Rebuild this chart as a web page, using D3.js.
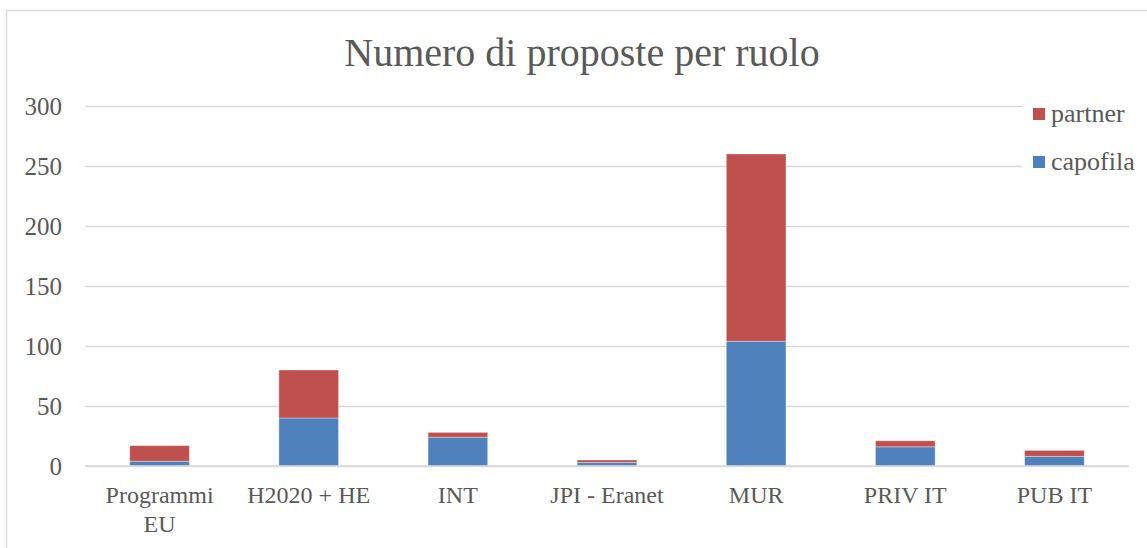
<!DOCTYPE html>
<html>
<head>
<meta charset="utf-8">
<script src="https://cdn.jsdelivr.net/npm/d3@7"></script>
<style>
  html, body { margin: 0; padding: 0; background: #fff; }
  svg { display: block; font-family: "Liberation Serif", "DejaVu Serif", serif; }
</style>
</head>
<body>
<svg id="chart" width="1147" height="548"></svg>
<script>
// dati
const categories = ["Programmi EU", "H2020 + HE", "INT", "JPI - Eranet", "MUR", "PRIV IT", "PUB IT"]
const capofila = [4, 40, 24, 3, 104, 16, 8]
const partner = [13, 40, 4, 2, 156, 5, 5]
const y_ticks = [0, 50, 100, 150, 200, 250, 300]
const series_names = ["capofila", "partner"]

const color = { capofila: "#4F81BD", partner: "#C0504D" }
const text_color = "#595959", grid_color = "#D9D9D9"

const svg = d3.select("#chart")
const width = 1147, height = 548

/* area del grafico */
const plot_left = 85, plot_right = 1129, plot_top = 106, plot_bottom = 466

// bordo esterno
svg.append("path")
    .attr("d", `M6.5,${height} L6.5,10.5 L${width},10.5`)
    .attr("fill", "none")
    .attr("stroke", grid_color)
    .attr("stroke-width", 1.5)

const x = d3.scaleBand()
    .domain(categories)
    .range([plot_left, plot_right])
    .paddingInner(0.6)
    .paddingOuter(0.3)

const y = d3.scaleLinear()
    .domain([0, 300])
    .range([plot_bottom, plot_top])

/* griglia + asse y */
const yAxis = svg.append("g")
    .attr("transform", `translate(${plot_left},0)`)
    .call(d3.axisLeft(y).tickValues(y_ticks).tickSize(-(plot_right - plot_left)).tickPadding(23))
yAxis.select(".domain").remove()
yAxis.selectAll(".tick line")
    .attr("stroke", grid_color)
    .attr("stroke-width", 1.5)
yAxis.selectAll(".tick text")
    .attr("fill", text_color)
    .style("font-size", "25px")
    .style("font-family", "Liberation Serif, serif")

/* barre impilate */
const rows = categories.map((c, i) => ({ cat: c, capofila: capofila[i], partner: partner[i] }))
const stacked = d3.stack().keys(series_names)(rows)

svg.append("g")
    .selectAll("g")
    .data(stacked)
    .join("g")
    .attr("fill", d => color[d.key])
    .selectAll("rect")
    .data(d => d)
    .join("rect")
    .attr("x", d => x(d.data.cat))
    .attr("y", d => y(d[1]))
    .attr("width", x.bandwidth())
    .attr("height", d => y(d[0]) - y(d[1]))
    .attr("stroke", "#fff")
    .attr("stroke-opacity", 0.35)
    .attr("stroke-width", 1)

// linea di base
svg.append("line")
    .attr("x1", plot_left).attr("x2", plot_right)
    .attr("y1", y(0)).attr("y2", y(0))
    .attr("stroke", grid_color)
    .attr("stroke-width", 1.5)

/* etichette categorie */
const xLabels = svg.append("g")
    .selectAll("text")
    .data(categories)
    .join("text")
    .attr("x", d => x(d) + x.bandwidth() / 2)
    .attr("y", 503)
    .attr("text-anchor", "middle")
    .attr("fill", text_color)
    .style("font-size", "24px")

xLabels.each(function (d) {
    const t = d3.select(this)
    const parts = d === "Programmi EU" ? ["Programmi", "EU"] : [d]
    parts.forEach((p, i) => {
        t.append("tspan")
            .attr("x", x(d) + x.bandwidth() / 2)
            .attr("dy", i === 0 ? 0 : 29)
            .text(p)
    })
})

/* titolo */
svg.append("text")
    .attr("x", 582)
    .attr("y", 66)
    .attr("text-anchor", "middle")
    .attr("fill", text_color)
    .style("font-size", "40px")
    .text("Numero di proposte per ruolo")

/* legenda */
const legend = svg.append("g")
legend.append("rect")
    .attr("x", 1022).attr("y", 92)
    .attr("width", 125).attr("height", 90)
    .attr("fill", "#fff")

const legend_items = ["partner", "capofila"]
legend.selectAll("rect.key")
    .data(legend_items)
    .join("rect")
    .classed("key", true)
    .attr("x", 1033)
    .attr("y", (d, i) => 108 + i * 48)
    .attr("width", 12).attr("height", 12)
    .attr("fill", d => color[d])

legend.selectAll("text")
    .data(legend_items)
    .join("text")
    .attr("x", 1051)
    .attr("y", (d, i) => 122 + i * 48)
    .attr("fill", text_color)
    .style("font-size", "26px")
    .text(d => d)
</script>
</body>
</html>
